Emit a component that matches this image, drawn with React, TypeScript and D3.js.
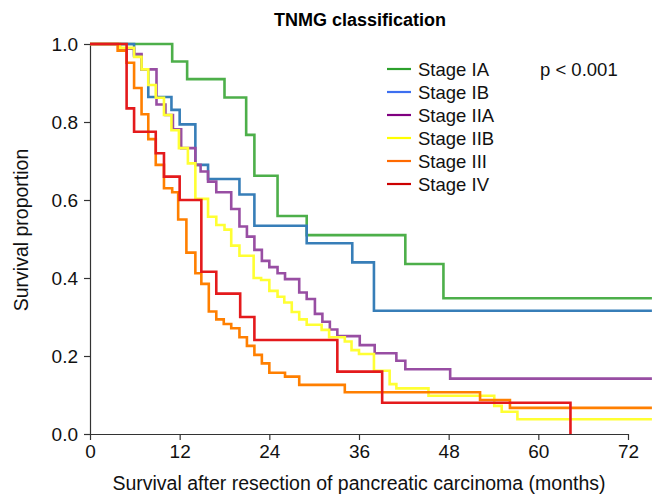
import React, { useEffect, useRef } from "react";
import * as d3 from "d3";

// Kaplan-Meier steps (months, survival proportion)
const stages = ["Stage IA", "Stage IB", "Stage IIA", "Stage IIB", "Stage III", "Stage IV"];
const lineColors = ["#4daf4a", "#377eb8", "#984ea3", "#ffff33", "#ff7f00", "#e41a1c"];
const legendColors = ["#2ca02c", "#3d6ff0", "#800080", "#ffff00", "#ff6a00", "#cc0000"];

const monthsIA = [0, 11, 13, 18, 20.9, 22, 25.1, 29, 42.2, 47.3, 75.2];
const survIA = [1, 0.955, 0.91, 0.863, 0.767, 0.662, 0.559, 0.51, 0.436, 0.348, 0.348];

const monthsIB = [0, 5.9, 6.9, 7.8, 10.9, 12, 14.1, 15.8, 20, 22, 29, 35.1, 38, 75.2];
const survIB = [1, 0.97, 0.935, 0.864, 0.831, 0.794, 0.69, 0.654, 0.614, 0.534, 0.489, 0.44, 0.316, 0.316];

const monthsIIA = [0, 4, 5.9, 6.9, 8.9, 10.1, 11.1, 12.2, 14.1, 14.8, 15.8, 16.9, 18.9, 20, 21, 22, 23, 24, 25.1, 26.1, 28, 29, 30.1, 31.1, 32.1, 33.1, 36.1, 38.1, 41, 42.2, 48.2, 75.2];
const survIIA = [1, 0.988, 0.974, 0.935, 0.845, 0.818, 0.781, 0.733, 0.69, 0.673, 0.647, 0.62, 0.577, 0.532, 0.506, 0.472, 0.444, 0.428, 0.412, 0.397, 0.363, 0.346, 0.308, 0.288, 0.268, 0.251, 0.228, 0.207, 0.188, 0.166, 0.142, 0.142];

const monthsIIB = [0, 4, 5.9, 6.9, 7.8, 8.8, 9.9, 10.9, 11.9, 13.1, 14.1, 15.8, 16.9, 18, 18.9, 20, 21.9, 22.9, 24, 25.1, 26, 27, 28, 29, 31, 32, 34.1, 35, 36, 38, 40.1, 41, 45.3, 54.1, 55.1, 57.2, 75.2];
const survIIB = [1, 0.99, 0.967, 0.935, 0.895, 0.862, 0.818, 0.779, 0.733, 0.694, 0.603, 0.557, 0.536, 0.524, 0.483, 0.457, 0.4, 0.395, 0.367, 0.352, 0.337, 0.313, 0.294, 0.28, 0.267, 0.248, 0.237, 0.215, 0.205, 0.162, 0.128, 0.117, 0.098, 0.072, 0.057, 0.038, 0.038];

const monthsIII = [0, 3.7, 4.9, 5.9, 6.9, 7.8, 8.8, 9.9, 11, 11.8, 12.9, 14.1, 14.9, 15.9, 16.9, 17.9, 18.9, 20, 21, 22, 23, 24, 26.1, 28, 34.1, 52.2, 56.2, 75.2];
const survIII = [1, 0.983, 0.952, 0.887, 0.82, 0.756, 0.69, 0.63, 0.62, 0.55, 0.465, 0.412, 0.385, 0.314, 0.294, 0.282, 0.271, 0.248, 0.226, 0.203, 0.181, 0.157, 0.147, 0.126, 0.107, 0.087, 0.067, 0.067];

const monthsIV = [0, 4.9, 5.9, 8.8, 9.9, 12, 14.9, 16.9, 20.1, 22, 33.1, 39.1, 64.3];
const survIV = [1, 0.835, 0.775, 0.72, 0.66, 0.6, 0.416, 0.36, 0.3, 0.241, 0.16, 0.08, 0];

const xTicks = [0, 12, 24, 36, 48, 60, 72];
const yTicks = [0, 0.2, 0.4, 0.6, 0.8, 1.0];

const seriesMonths = [monthsIA, monthsIB, monthsIIA, monthsIIB, monthsIII, monthsIV];
const seriesSurv = [survIA, survIB, survIIA, survIIB, survIII, survIV];

function App() {
  const ref = useRef(null);

  useEffect(() => {
    const svg = d3.select(ref.current);
    svg.selectAll("*").remove();
    const font = "'Liberation Sans', Arial, sans-serif";

    const x = d3.scaleLinear().domain([0, 72]).range([90, 628]);
    const y = d3.scaleLinear().domain([0, 1]).range([434, 44]);

    // axes
    const xAxis = svg
      .append("g")
      .attr("transform", "translate(0,434)")
      .call(d3.axisBottom(x).tickValues(xTicks).tickSize(6).tickSizeOuter(0).tickPadding(5));
    xAxis.selectAll("text").attr("font-size", 19).attr("font-family", font).attr("fill", "#111");

    const yAxis = svg
      .append("g")
      .attr("transform", "translate(90,0)")
      .call(d3.axisLeft(y).tickValues(yTicks).tickFormat(d3.format(".1f")).tickSize(6).tickSizeOuter(0).tickPadding(6));
    yAxis.selectAll("text").attr("font-size", 19).attr("font-family", font).attr("fill", "#111");

    svg.selectAll(".domain, .tick line").attr("stroke", "#333").attr("stroke-width", 1.2);

    // survival curves
    const line = d3
      .line()
      .x((d) => x(d[0]))
      .y((d) => y(d[1]))
      .curve(d3.curveStepAfter);

    stages.forEach((s, i) => {
      const pts = seriesMonths[i].map((m, j) => [m, seriesSurv[i][j]]);
      svg
        .append("path")
        .datum(pts)
        .attr("d", line)
        .attr("fill", "none")
        .attr("stroke", lineColors[i])
        .attr("stroke-width", 2.6);
    });

    // title and labels
    svg
      .append("text")
      .attr("x", 360)
      .attr("y", 26)
      .attr("text-anchor", "middle")
      .attr("font-family", font)
      .attr("font-weight", "bold")
      .attr("font-size", 18)
      .text("TNMG classification");

    svg
      .append("text")
      .attr("x", 359)
      .attr("y", 490)
      .attr("text-anchor", "middle")
      .attr("font-family", font)
      .attr("font-size", 19.5)
      .attr("fill", "#111")
      .text("Survival after resection of pancreatic carcinoma (months)");

    svg
      .append("text")
      .attr("transform", "translate(28,230) rotate(-90)")
      .attr("text-anchor", "middle")
      .attr("font-family", font)
      .attr("font-size", 19.5)
      .attr("fill", "#111")
      .text("Survival proportion");

    // legend
    const legend = svg.append("g");
    stages.forEach((s, i) => {
      const ly = 69 + i * 23;
      legend
        .append("line")
        .attr("x1", 387)
        .attr("x2", 411)
        .attr("y1", ly)
        .attr("y2", ly)
        .attr("stroke", legendColors[i])
        .attr("stroke-width", 2.2);
      legend
        .append("text")
        .attr("x", 418)
        .attr("y", ly + 7)
        .attr("font-family", font)
        .attr("font-size", 18.5)
        .attr("fill", "#111")
        .text(s);
    });

    svg
      .append("text")
      .attr("x", 540)
      .attr("y", 76)
      .attr("font-family", font)
      .attr("font-size", 18.5)
      .attr("fill", "#111")
      .text("p < 0.001");
  }, []);

  return (
    <svg
      ref={ref}
      width={654}
      height={494}
      style={{ position: "absolute", left: 0, top: 0, background: "#fff" }}
    />
  );
}

export default App;
